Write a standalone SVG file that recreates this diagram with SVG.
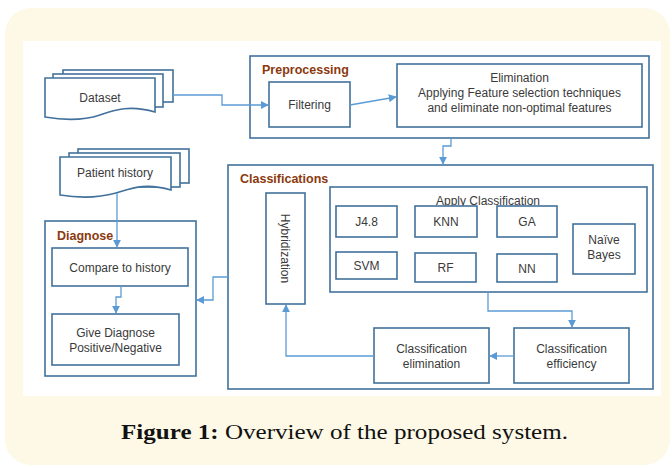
<svg xmlns="http://www.w3.org/2000/svg" width="672" height="468" viewBox="0 0 672 468">
<defs>
<style>
.box{fill:#fff;stroke:#41719c;stroke-width:1.6}
.t{font-family:"Liberation Sans",Arial,sans-serif;font-size:12px;fill:#3a3a3a;text-anchor:middle}
.ttl{font-family:"Liberation Sans",Arial,sans-serif;font-size:12.5px;font-weight:bold;fill:#8b3a0f}
.c{fill:none;stroke:#5b9bd5;stroke-width:1.3}
.cap{font-family:"Liberation Serif","DejaVu Serif",serif;font-size:21px;fill:#111}
</style>
<marker id="ah" viewBox="0 0 10 10" refX="9" refY="5" markerWidth="8" markerHeight="8" markerUnits="userSpaceOnUse" orient="auto">
<path d="M0,0 L10,5 L0,10 Z" fill="#5b9bd5"/>
</marker>
</defs>
<rect x="0" y="0" width="672" height="468" fill="#fff"/>
<rect x="5" y="8" width="665" height="457" rx="26" fill="#fdf9e6"/>
<rect x="23" y="41" width="638" height="355" fill="#fff"/>

<g id="dataset">
<rect class="box" x="63" y="70" width="110" height="32"/>
<rect class="box" x="53" y="74" width="110" height="33"/>
<path class="box" d="M45,78 H155 V112 C128,104 112,111 100,115 C82,121 62,120 45,117 Z"/>
<text class="t" x="100" y="102">Dataset</text>
</g>

<g id="preprocessing">
<rect class="box" x="250" y="56" width="399" height="82"/>
<text class="ttl" x="262" y="74">Preprocessing</text>
</g>
<g id="filtering">
<rect class="box" x="269" y="82" width="81" height="45"/>
<text class="t" x="309.5" y="109">Filtering</text>
</g>
<g id="elimination">
<rect class="box" x="397" y="64" width="245" height="63"/>
<text class="t" x="519.5" y="82">Elimination</text>
<text class="t" x="519.5" y="97">Applying Feature selection techniques</text>
<text class="t" x="519.5" y="112">and eliminate non-optimal features</text>
</g>

<g id="patient-history">
<rect class="box" x="78" y="149" width="111" height="34"/>
<rect class="box" x="69" y="153" width="111" height="34"/>
<path class="box" d="M60,157 H171 V190 C144,182 130,189 116,193 C98,198 78,198 60,195 Z"/>
<text class="t" x="115" y="177">Patient history</text>
</g>

<g id="diagnose">
<rect class="box" x="45" y="221" width="151" height="155"/>
<text class="ttl" x="57" y="240">Diagnose</text>
</g>
<g id="compare">
<rect class="box" x="52" y="248" width="136" height="38"/>
<text class="t" x="120" y="272">Compare to history</text>
</g>
<g id="give-diagnose">
<rect class="box" x="52" y="314" width="127" height="51"/>
<text class="t" x="115.5" y="337">Give Diagnose</text>
<text class="t" x="115.5" y="352">Positive/Negative</text>
</g>

<g id="classifications">
<rect class="box" x="228" y="165" width="425" height="224"/>
<text class="ttl" x="240" y="183">Classifications</text>
</g>
<g id="hybridization">
<rect class="box" x="266" y="193" width="39" height="111"/>
<text class="t" transform="translate(281,248.5) rotate(90)" x="0" y="0">Hybridization</text>
</g>
<g id="apply-classification">
<rect class="box" x="330" y="187" width="317" height="105"/>
<text class="t" x="488" y="205">Apply Classification</text>
</g>
<g id="j48"><rect class="box" x="336" y="206" width="61" height="31"/><text class="t" x="366.5" y="226">J4.8</text></g>
<g id="knn"><rect class="box" x="415" y="206" width="62" height="31"/><text class="t" x="446" y="226">KNN</text></g>
<g id="ga"><rect class="box" x="497" y="206" width="60" height="31"/><text class="t" x="527" y="226">GA</text></g>
<g id="naive-bayes"><rect class="box" x="573" y="224" width="62" height="50"/><text class="t" x="604" y="244">Naïve</text><text class="t" x="604" y="259">Bayes</text></g>
<g id="svm"><rect class="box" x="336" y="252" width="61" height="27"/><text class="t" x="366.5" y="270">SVM</text></g>
<g id="rf"><rect class="box" x="415" y="253" width="61" height="29"/><text class="t" x="445.5" y="272">RF</text></g>
<g id="nn"><rect class="box" x="497" y="254" width="60" height="28"/><text class="t" x="527" y="273">NN</text></g>
<g id="classification-elimination"><rect class="box" x="374" y="328" width="115" height="55"/><text class="t" x="431.5" y="353">Classification</text><text class="t" x="431.5" y="368">elimination</text></g>
<g id="classification-efficiency"><rect class="box" x="514" y="328" width="115" height="55"/><text class="t" x="571.5" y="353">Classification</text><text class="t" x="571.5" y="368">efficiency</text></g>

<g id="connectors">
<path class="c" d="M173,95 H222 V105 H268" marker-end="url(#ah)"/>
<path class="c" d="M350,105 L396,97" marker-end="url(#ah)"/>
<path class="c" d="M451,138 V146 H443 V164" marker-end="url(#ah)"/>
<path class="c" d="M117,193 V247" marker-end="url(#ah)"/>
<path class="c" d="M121,286 V297 H116 V313" marker-end="url(#ah)"/>
<path class="c" d="M228,277 H213 V300 H197" marker-end="url(#ah)"/>
<path class="c" d="M488,292 V311 H572 V327" marker-end="url(#ah)"/>
<path class="c" d="M514,356 H490" marker-end="url(#ah)"/>
<path class="c" d="M374,356 H286 V305" marker-end="url(#ah)"/>
</g>

<text class="cap" x="121" y="439" textLength="447" lengthAdjust="spacingAndGlyphs"><tspan font-weight="bold">Figure 1:</tspan> Overview of the proposed system.</text>
</svg>
